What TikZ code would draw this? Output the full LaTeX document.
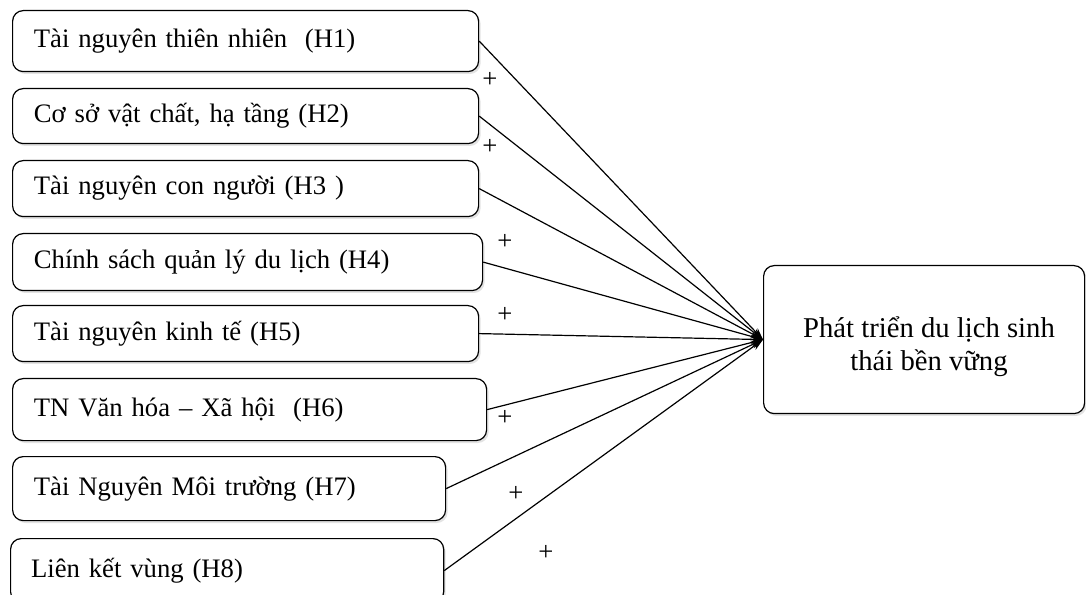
\documentclass[tikz,border=0pt]{standalone}
\usepackage{fontspec}
\setmainfont{Liberation Serif}
\usetikzlibrary{arrows.meta,shadows}
\begin{document}
\begin{tikzpicture}[x=0.75pt,y=-0.75pt]
\useasboundingbox (0,0) rectangle (1086,595);
\clip (0,0) rectangle (1086,595);
\tikzset{
  box/.style={draw, line width=0.9pt, rounded corners=8pt, fill=white,
    drop shadow={shadow xshift=1.5pt, shadow yshift=-1.8pt, fill=black!22},
    anchor=north west, inner xsep=16pt, inner ysep=0pt, align=left,
    font=\fontsize{20}{24}\selectfont},
  arr/.style={line width=0.9pt, -{Stealth[length=9pt,width=6pt]}},
  plus/.style={font=\fontsize{20}{24}\selectfont, inner sep=0pt}
}
\node[box, text width=317.5pt, minimum height=45.75pt] (b1) at (12,10) {Tài nguyên thiên nhiên~~(H1)};
\node[box, text width=317.5pt, minimum height=41.25pt] (b2) at (12,88) {Cơ sở vật chất, hạ tầng (H2)};
\node[box, text width=317.5pt, minimum height=42pt] (b3) at (12,160) {Tài nguyên con người (H3 )};
\node[box, text width=320.5pt, minimum height=42.75pt] (b4) at (12,233) {Chính sách quản lý du lịch (H4)};
\node[box, text width=317.5pt, minimum height=42pt] (b5) at (12,305) {Tài nguyên kinh tế (H5)};
\node[box, text width=323.5pt, minimum height=46.5pt] (b6) at (12,378) {TN Văn hóa – Xã hội~~(H6)};
\node[box, text width=292.75pt, minimum height=48pt] (b7) at (12,456) {Tài Nguyên Môi trường (H7)};
\node[box, text width=294pt, inner xsep=15.4pt, minimum height=48pt] (b8) at (10,538) {Liên kết vùng (H8)};
\node[box, minimum width=240.75pt, minimum height=111pt] (t) at (763,265) {};
\node[align=center, font=\fontsize{21.5}{25}\selectfont, inner sep=0pt] (tl) at (929,347) {Phát triển du lịch sinh\\thái bền vững};
\foreach \i in {1,...,8} { \draw[arr] (b\i.east) -- (t.west); }
\node[plus] (p1) at (490,80) {+};
\node[plus] (p2) at (490,147) {+};
\node[plus] (p3) at (505,242) {+};
\node[plus] (p4) at (505,315) {+};
\node[plus] (p5) at (505,418) {+};
\node[plus] (p6) at (516,494) {+};
\node[plus] (p7) at (546,553) {+};
\end{tikzpicture}
\end{document}
